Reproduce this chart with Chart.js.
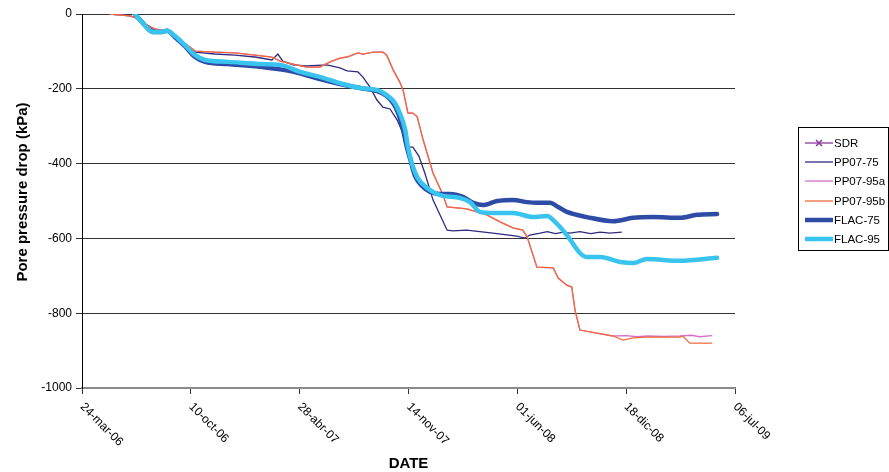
<!DOCTYPE html>
<html>
<head>
<meta charset="utf-8">
<script src="https://cdn.jsdelivr.net/npm/chart.js@4.4.0/dist/chart.umd.min.js"></script>
<style>
  body { margin: 0; background: #fff; }
</style>
</head>
<body>
<canvas id="ch" width="889" height="472"></canvas>
<script>
const FONT = "'Liberation Sans', Arial, sans-serif";

// x values are days counted from 24-mar-06
const tickLabels = ['24-mar-06', '10-oct-06', '28-abr-07', '14-nov-07', '01-jun-08', '18-dic-08', '06-jul-09'];

const sdrDays = [];
const sdrVals = [];

const pp75Days = [51, 88, 101, 116, 134, 153, 171, 189, 208, 244, 281, 318, 349, 360, 369, 388, 413, 450, 474, 487, 507, 516, 529, 542, 553, 566, 579, 592, 599, 608, 619, 630, 645, 671, 682, 707, 755, 799, 814, 823, 842, 855, 870, 885, 897, 915, 935, 952, 970, 992];
const pp75Vals = [0, -5, -11, -27, -43, -45, -59, -80, -102, -107, -110, -115, -123, -107, -126, -136, -139, -136, -144, -152, -155, -168, -195, -230, -249, -254, -283, -326, -356, -356, -380, -425, -497, -578, -580, -578, -586, -594, -599, -591, -586, -582, -587, -583, -586, -582, -587, -583, -586, -583];

const pp95aDays = [51, 88, 101, 116, 134, 153, 171, 189, 208, 244, 281, 318, 349, 364, 388, 413, 437, 456, 474, 487, 507, 516, 535, 553, 560, 572, 584, 590, 599, 608, 616, 627, 645, 662, 671, 707, 744, 768, 792, 810, 818, 836, 866, 875, 891, 900, 906, 915, 946, 976, 1000, 1020, 1040, 1070, 1099, 1120, 1135, 1158];
const pp95aVals = [0, -5, -11, -27, -40, -45, -56, -78, -99, -102, -104, -110, -115, -126, -134, -142, -142, -128, -118, -115, -104, -107, -102, -102, -110, -150, -182, -203, -265, -265, -275, -337, -425, -479, -516, -521, -537, -556, -572, -578, -596, -677, -679, -706, -725, -730, -792, -845, -853, -861, -860, -863, -861, -862, -861, -859, -863, -860];

const pp95bDays = [51, 88, 101, 116, 134, 153, 171, 189, 208, 244, 281, 318, 349, 364, 388, 413, 437, 456, 474, 487, 507, 516, 535, 553, 560, 572, 584, 590, 599, 608, 616, 627, 645, 662, 671, 707, 744, 768, 792, 810, 818, 836, 866, 875, 891, 900, 906, 915, 946, 976, 994, 1013, 1038, 1099, 1104, 1117, 1158];
const pp95bVals = [0, -5, -11, -27, -40, -45, -56, -78, -99, -102, -104, -110, -115, -126, -134, -142, -142, -128, -118, -115, -104, -107, -102, -102, -110, -150, -182, -203, -265, -265, -275, -337, -425, -479, -516, -521, -537, -556, -572, -578, -596, -677, -679, -706, -725, -730, -792, -845, -853, -861, -872, -866, -864, -864, -861, -880, -880];

const flac75Days = [97, 110, 130, 147, 156, 171, 189, 208, 226, 268, 331, 391, 437, 474, 511, 542, 560, 573, 581, 590, 597, 605, 612, 625, 640, 658, 676, 700, 719, 737, 763, 792, 818, 836, 860, 875, 891, 928, 976, 1013, 1049, 1099, 1130, 1167];
const flac75Vals = [0, -21, -48, -48, -45, -62, -86, -115, -128, -134, -142, -155, -174, -187, -198, -206, -219, -241, -265, -310, -356, -398, -433, -460, -476, -481, -481, -489, -505, -511, -500, -497, -503, -505, -505, -516, -529, -543, -554, -545, -543, -545, -537, -535];

const flac95Days = [97, 110, 130, 147, 156, 171, 189, 208, 226, 268, 331, 364, 401, 437, 474, 511, 542, 560, 575, 584, 594, 599, 606, 616, 634, 658, 695, 713, 731, 755, 792, 829, 855, 866, 891, 915, 928, 952, 989, 1013, 1038, 1099, 1167];
const flac95Vals = [0, -21, -48, -48, -45, -59, -83, -110, -123, -128, -134, -136, -155, -168, -185, -198, -203, -217, -238, -265, -310, -356, -398, -436, -465, -484, -492, -503, -529, -532, -532, -543, -540, -551, -591, -639, -650, -650, -663, -666, -655, -660, -652];

let pts = (d, v) => d.map((x, i) => ({x: x, y: v[i]}));

const extras = {
    id: 'extras',
    afterDraw(chart) {
        let ctx = chart.ctx;
        let xs = chart.scales.x;
        ctx.save();
        ctx.fillStyle = '#000';

        // rotated date labels
        ctx.font = '12px ' + FONT;
        ctx.textAlign = 'left';
        ctx.textBaseline = 'middle';
        xs.ticks.forEach((t) => {
            let px = xs.getPixelForValue(t.value);
            ctx.save();
            ctx.translate(px, xs.top + 17);
            ctx.rotate(Math.PI / 4);
            ctx.fillText(tickLabels[Math.round(t.value / 200)], 0, 0);
            ctx.restore();
        });

        // y axis title
        ctx.save();
        ctx.font = 'bold 15px ' + FONT;
        ctx.textAlign = 'center';
        ctx.translate(23, 192);
        ctx.rotate(-Math.PI / 2);
        ctx.fillText('Pore pressure drop (kPa)', 0, 0);
        ctx.restore();

        // legend
        ctx.strokeStyle = '#000';
        ctx.lineWidth = 1;
        ctx.strokeRect(798.5, 127.5, 90, 123);
        ctx.font = '11.5px ' + FONT;
        ctx.textAlign = 'left';
        chart.data.datasets.forEach((ds, i) => {
            let y = Math.round(143 + i * 19.2);
            ctx.strokeStyle = ds.borderColor;
            ctx.lineWidth = ds.borderWidth;
            ctx.beginPath();
            ctx.moveTo(805, y);
            ctx.lineTo(833, y);
            ctx.stroke();
            if (ds.label === 'SDR') {
                ctx.lineWidth = 1.5;
                ctx.beginPath();
                ctx.moveTo(816, y - 3); ctx.lineTo(822, y + 3);
                ctx.moveTo(822, y - 3); ctx.lineTo(816, y + 3);
                ctx.stroke();
            }
            ctx.fillStyle = '#000';
            ctx.fillText(ds.label, 834, y + 1);
        });
        ctx.restore();
    }
};

let thin = (label, color, days, vals, order) => ({
    label: label,
    data: pts(days, vals),
    borderColor: color,
    borderWidth: 1.3,
    pointRadius: 0,
    tension: 0,
    order: order
});

let thick = (label, color, days, vals, order) => ({
    label: label,
    data: pts(days, vals),
    borderColor: color,
    borderWidth: 4.5,
    pointRadius: 0,
    tension: 0.4,
    cubicInterpolationMode: 'monotone',
    borderCapStyle: 'round',
    order: order
});

let chart = new Chart('ch', {
    type: 'line',
    data: {
        datasets: [
            thin('SDR', '#8B3A9C', sdrDays, sdrVals, 5),
            thin('PP07-75', '#2D2B7E', pp75Days, pp75Vals, 4),
            thin('PP07-95a', '#D46FCB', pp95aDays, pp95aVals, 3),
            thin('PP07-95b', '#F26A3B', pp95bDays, pp95bVals, 2),
            thick('FLAC-75', '#2E4CA6', flac75Days, flac75Vals, 1),
            thick('FLAC-95', '#38C4EF', flac95Days, flac95Vals, 0)
        ]
    },
    options: {
        responsive: false,
        animation: false,
        layout: { padding: { left: 0, top: 14, right: 154, bottom: 0 } },
        plugins: {
            legend: { display: false },
            tooltip: { enabled: false }
        },
        scales: {
            x: {
                type: 'linear',
                min: 0,
                max: 1200,
                ticks: { stepSize: 200, display: false },
                grid: { drawOnChartArea: false, drawTicks: true, tickLength: 6, color: '#333' },
                border: { color: '#8a8a8a', width: 2 },
                title: {
                    display: true,
                    text: 'DATE',
                    color: '#000',
                    font: { family: FONT, size: 15, weight: 'bold', lineHeight: 1 },
                    padding: { top: 0, bottom: 1 }
                },
                afterFit: (s) => { s.height = 84; }
            },
            y: {
                min: -1000,
                max: 0,
                ticks: {
                    stepSize: 200,
                    color: '#000',
                    padding: 4,
                    font: { family: FONT, size: 12 },
                    callback: (v) => String(v)
                },
                grid: {
                    color: (c) => c.tick && c.tick.value === -1000 ? 'rgba(0,0,0,0)' : '#333',
                    tickColor: '#333',
                    tickLength: 6
                },
                border: { color: '#000', width: 1 },
                afterFit: (s) => { s.width = 82; }
            }
        }
    },
    plugins: [extras]
});
</script>
</body>
</html>
